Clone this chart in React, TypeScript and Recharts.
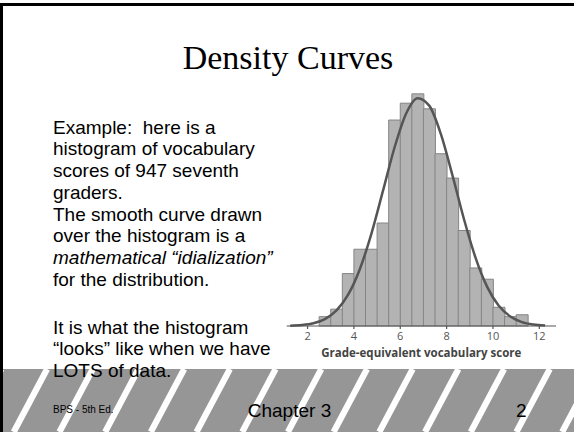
import { ComposedChart, Bar, Line, XAxis, YAxis, Label } from 'recharts';

// histogram bins (half-grade wide) and their counts, 947 students
const binCenters = [2.75, 3.25, 3.75, 4.25, 4.75, 5.25, 5.75, 6.25, 6.75, 7.25, 7.75, 8.25, 8.75, 9.25, 9.75, 10.25, 10.75, 11.25];
const binCounts = [5, 9, 28, 41, 41, 55, 110, 119, 124, 116, 92, 79, 51, 31, 25, 10, 5, 6];

// smooth density curve, in the same count-per-bin units
const curveX = [1.25, 1.75, 2.25, 2.75, 3.25, 3.75, 4.25, 4.75, 5.25, 5.75, 6.25, 6.75, 7.25, 7.75, 8.25, 8.75, 9.25, 9.75, 10.25, 10.75, 11.25, 11.75, 12.25];
const curveY = [0.2, 0.55, 1.5, 3.7, 8.3, 16.7, 30.2, 49.1, 72.0, 95.2, 113.4, 121.7, 117.7, 102.6, 80.6, 57.0, 36.4, 20.9, 10.8, 5.1, 2.1, 0.8, 0.3];

const xTicks = [2, 4, 6, 8, 10, 12];

const rows = curveX.map((x, i) => {
  const b = binCenters.indexOf(x);
  return { x, curve: curveY[i], count: b >= 0 ? binCounts[b] : null };
});

const SANS = '"Liberation Sans", Arial, sans-serif';

function FooterStripes() {
  // white diagonal stripes over the grey footer band
  const lines = [];
  for (let k = -2; k < 16; k++) {
    const x0 = 1.4 + k * 45.7;
    lines.push(<line key={k} x1={x0} y1={0} x2={x0 - 0.53 * 63} y2={63} stroke="#fff" strokeWidth={6.2} />);
  }
  return (
    <svg width={574} height={63} style={{ position: 'absolute', left: 0, top: 369 }}>
      <rect x={3} y={0} width={571} height={63} fill="#969696" />
      {lines}
    </svg>
  );
}

const line = (text: string) => <div style={{ whiteSpace: 'pre' }}>{text}</div>;

export default function App() {
  return (
    <div style={{ position: 'absolute', left: 0, top: 0, width: 574, height: 432, background: '#fff', overflow: 'hidden' }}>
      <FooterStripes />
      <div style={{ position: 'absolute', left: 0, top: 3, width: 574, height: 3, background: '#000' }} />
      <div style={{ position: 'absolute', left: 0, top: 3, width: 3, height: 429, background: '#000' }} />

      <div style={{ position: 'absolute', left: 0, top: 40.8, width: 576, textAlign: 'center', fontFamily: '"Liberation Serif", "Times New Roman", serif', fontSize: 34, lineHeight: '34px' }}>
        Density Curves
      </div>

      <div style={{ position: 'absolute', left: 53, top: 116.5, fontFamily: SANS, fontSize: 19, lineHeight: '21.8px', color: '#000' }}>
        {line('Example:  here is a')}
        {line('histogram of vocabulary')}
        {line('scores of 947 seventh')}
        {line('graders.')}
        {line('The smooth curve drawn')}
        {line('over the histogram is a')}
        <div style={{ whiteSpace: 'pre', fontStyle: 'italic' }}>mathematical “idialization”</div>
        {line('for the distribution.')}
      </div>
      <div style={{ position: 'absolute', left: 53, top: 316.7, fontFamily: SANS, fontSize: 19, lineHeight: '21.8px', color: '#000' }}>
        {line('It is what the histogram')}
        {line('“looks” like when we have')}
        {line('LOTS of data.')}
      </div>

      <div style={{ position: 'absolute', left: 53, top: 404.8, fontFamily: SANS, fontSize: 10, lineHeight: '10px' }}>BPS - 5th Ed.</div>
      <div style={{ position: 'absolute', left: 189.5, width: 200, top: 400.6, textAlign: 'center', fontFamily: SANS, fontSize: 19, lineHeight: '19px' }}>Chapter 3</div>
      <div style={{ position: 'absolute', left: 426.7, width: 100, top: 400.6, textAlign: 'right', fontFamily: SANS, fontSize: 19, lineHeight: '19px' }}>2</div>

      <div style={{ position: 'absolute', left: 270, top: 60 }}>
        <ComposedChart
          width={300}
          height={310}
          data={rows}
          margin={{ top: 22.6, right: 14, left: 16.7, bottom: 4 }}
          barCategoryGap={0}
          barGap={0}
        >
          <XAxis
            dataKey="x"
            type="number"
            domain={[1.1, 12.72]}
            ticks={xTicks}
            allowDataOverflow
            height={40}
            stroke="#555"
            strokeWidth={1.2}
            tickSize={3}
            tickMargin={3}
            tick={{ fontSize: 11, fill: '#555', fontFamily: '"Open Sans", sans-serif' }}
          >
            <Label
              value="Grade-equivalent vocabulary score"
              position="insideBottom"
              offset={9}
              style={{ fontSize: 11.5, fontWeight: 700, fill: '#444', fontFamily: '"Open Sans", sans-serif' }}
            />
          </XAxis>
          <YAxis hide domain={[0, 130]} />
          <Bar dataKey="count" fill="#b3b3b3" stroke="#858585" strokeWidth={1} isAnimationActive={false} />
          <Line dataKey="curve" type="monotone" stroke="#555" strokeWidth={2.5} dot={false} isAnimationActive={false} />
        </ComposedChart>
      </div>
    </div>
  );
}
